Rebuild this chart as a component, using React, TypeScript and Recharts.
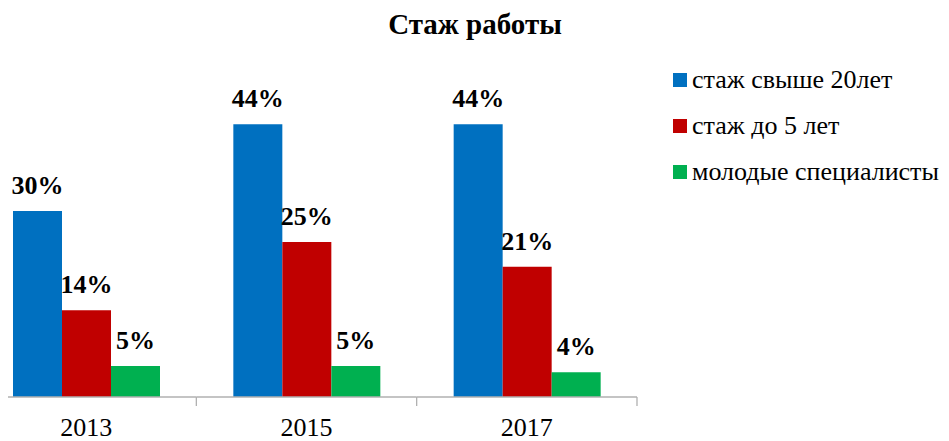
import { BarChart, Bar, XAxis, YAxis, LabelList } from "recharts";

// ---- data ----
const years = ["2013", "2015", "2017"];
const over20 = [30, 44, 44];
const under5 = [14, 25, 21];
const young = [5, 5, 4];

const seriesNames = ["стаж свыше 20лет", "стаж до 5 лет", "молодые специалисты"];
const seriesColors = ["#0070C0", "#C00000", "#00B050"];

const data = years.map((year, i) => ({
  year,
  over20: over20[i],
  under5: under5[i],
  young: young[i],
}));

const FONT = '"Liberation Serif", "DejaVu Serif", serif';
const SHIFT = 24; // chart is cropped on the left like the original
const CHART_W = 949 + SHIFT;
const CHART_H = 441;
const PLOT_W = 661;
const BAND = PLOT_W / years.length;

function YearTick({ x, y, payload, index }: any) {
  const left = index === 0 ? SHIFT + 8 : x - BAND / 2;
  const right = x + BAND / 2;
  return (
    <g>
      <line x1={left} y1={y} x2={right} y2={y} stroke="#b0b0b0" strokeWidth={1.3} />
      <line x1={right} y1={y} x2={right} y2={y + 9} stroke="#b0b0b0" strokeWidth={1.3} />
      <text
        x={x}
        y={y + 39}
        textAnchor="middle"
        fontFamily={FONT}
        fontSize={26}
        fill="#000"
      >
        {payload.value}
      </text>
    </g>
  );
}

// legend sits to the right of the plot, outside the chart's own layout
function SideLegend() {
  return (
    <div
      style={{
        position: "absolute",
        left: 673 + SHIFT,
        top: 57,
        fontFamily: FONT,
        fontSize: 26,
        color: "#000",
      }}
    >
      {seriesNames.map((name, i) => (
        <div
          key={name}
          style={{ display: "flex", alignItems: "center", height: 46, whiteSpace: "nowrap" }}
        >
          <span
            style={{
              width: 14,
              height: 14,
              background: seriesColors[i],
              marginRight: 5,
              display: "inline-block",
              flexShrink: 0,
            }}
          />
          <span>{name}</span>
        </div>
      ))}
    </div>
  );
}

const pct = (v: any) => `${v}%`;
const labelStyle = { fontFamily: FONT, fontSize: 26, fontWeight: 700, fill: "#000" };

export default function App() {
  return (
    <div style={{ marginLeft: -8 - SHIFT, marginTop: -8, width: CHART_W, height: CHART_H, position: "relative" }}>
      <BarChart
        width={CHART_W}
        height={CHART_H}
        data={data}
        margin={{ top: 87, right: CHART_W - PLOT_W, bottom: 14, left: 0 }}
        barGap={0}
        barSize={49}
      >
        <text
          x={475 + SHIFT}
          y={34}
          textAnchor="middle"
          fontFamily={FONT}
          fontSize={29}
          fontWeight={700}
          fill="#000"
        >
          Стаж работы
        </text>
        <XAxis
          dataKey="year"
          height={30}
          axisLine={false}
          tickLine={false}
          tickSize={0}
          tickMargin={0}
          tick={<YearTick />}
          interval={0}
        />
        <YAxis hide domain={[0, 50]} />
        <Bar dataKey="over20" name={seriesNames[0]} fill={seriesColors[0]} isAnimationActive={false}>
          <LabelList dataKey="over20" position="top" offset={17} formatter={pct} style={labelStyle} />
        </Bar>
        <Bar dataKey="under5" name={seriesNames[1]} fill={seriesColors[1]} isAnimationActive={false}>
          <LabelList dataKey="under5" position="top" offset={17} formatter={pct} style={labelStyle} />
        </Bar>
        <Bar dataKey="young" name={seriesNames[2]} fill={seriesColors[2]} isAnimationActive={false}>
          <LabelList dataKey="young" position="top" offset={17} formatter={pct} style={labelStyle} />
        </Bar>
      </BarChart>
      <SideLegend />
    </div>
  );
}
